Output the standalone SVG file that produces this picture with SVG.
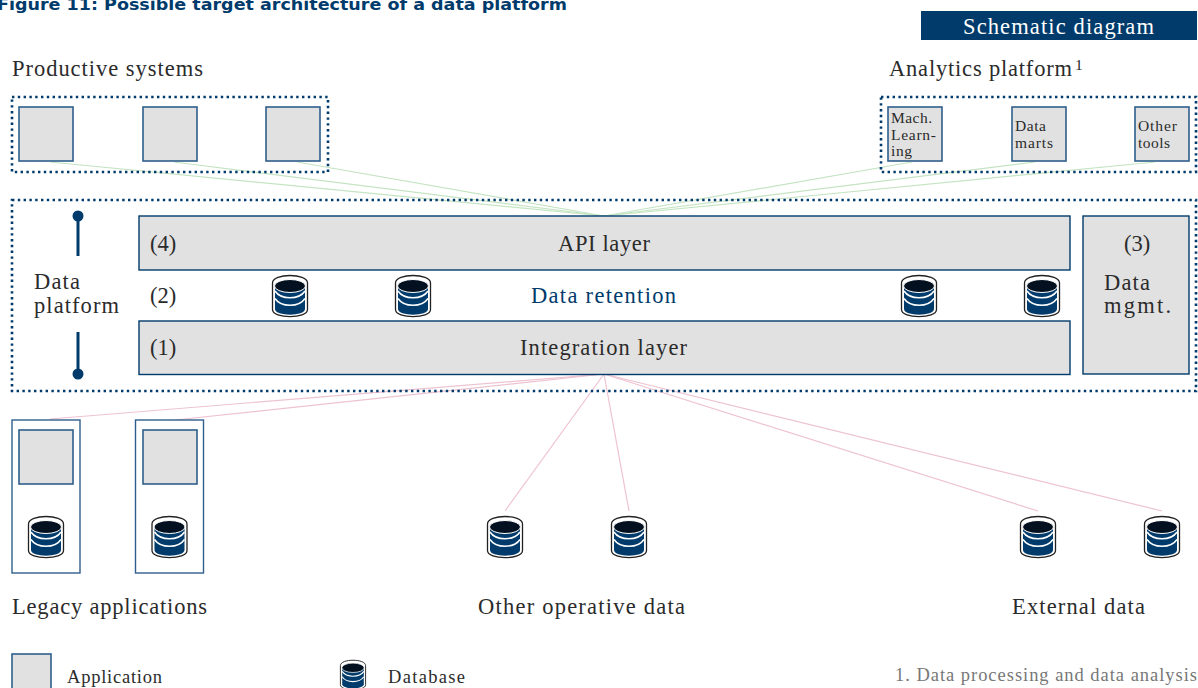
<svg xmlns="http://www.w3.org/2000/svg" xmlns:xlink="http://www.w3.org/1999/xlink" width="1198" height="688" viewBox="0 0 1198 688">
<style>
text{font-family:"Liberation Serif","Times New Roman",serif;fill:#2b2b2b}
.l{font-size:22.500px}
.s{font-size:15.500px}
.m{font-size:18.500px}
.app{fill:#e1e1e1;stroke:#2f5f8d;stroke-width:1.6}
.bar{fill:#e1e1e1;stroke:#003b6c;stroke-width:1.4}
.dot{fill:none;stroke:#003b6c;stroke-width:2.6;stroke-dasharray:2.4 3.4}
.tier{fill:#fff;stroke:#2f5f8d;stroke-width:1.4}
.g line{stroke:#c5e4c3;stroke-width:1.2}
.r line{stroke:#eec3d0;stroke-width:1.2}
.stem{stroke:#003b6c;stroke-width:3}
</style>
<defs>
<g id="db">
<path d="M-17.500-13C-17.500-23 17.500-23 17.500-13V13.500C17.500 23 -17.500 23 -17.500 13.500Z" fill="#fff" stroke="#222" stroke-width="1.300"/>
<path d="M-15-10V13C-15 20.500 15 20.500 15 13V-10Z" fill="#003b6c"/>
<path d="M-15-5C-9 4 9 4 15-5M-15 2.500C-9 11.500 9 11.500 15 2.500" fill="none" stroke="#fff" stroke-width="1.500"/>
<ellipse cx="0" cy="-10" rx="15.500" ry="6.500" fill="#03101f" stroke="#fff" stroke-width="1"/>
</g>
</defs>
<text x="-3" y="10" style="font-family:'DejaVu Sans',sans-serif;font-weight:700;font-size:15.500px;fill:#003b6c" textLength="570" lengthAdjust="spacingAndGlyphs">Figure 11: Possible target architecture of a data platform</text>
<g id="badge"><rect x="921" y="11" width="276" height="29" fill="#003b6c"/><text x="963" y="34" class="l" style="fill:#fff" textLength="191">Schematic diagram</text></g>
<g id="connectors">
<g class="g">
<line x1="50" y1="162" x2="604" y2="216"/><line x1="174" y1="162" x2="604" y2="216"/><line x1="297" y1="162" x2="604" y2="216"/>
<line x1="912" y1="162" x2="604" y2="216"/><line x1="1035" y1="162" x2="604" y2="216"/><line x1="1155" y1="162" x2="604" y2="216"/>
</g>
<g class="r">
<line x1="50" y1="419" x2="604" y2="374"/><line x1="175" y1="420" x2="604" y2="374"/><line x1="505" y1="511" x2="604" y2="374"/><line x1="629" y1="511" x2="604" y2="374"/><line x1="1038" y1="511" x2="604" y2="374"/><line x1="1162" y1="511" x2="604" y2="374"/>
</g>
</g>
<text x="12" y="76" class="l" textLength="191">Productive systems</text>
<text x="889" y="76" class="l" textLength="183">Analytics platform</text>
<text x="1075" y="70" class="s">1</text>
<rect id="frame-productive" class="dot" x="12" y="97" width="316" height="75"/>
<rect id="frame-analytics" class="dot" x="881" y="97" width="315" height="75"/>
<rect id="frame-platform" class="dot" x="12" y="200" width="1184" height="191"/>
<g id="app1"><rect class="app" x="19" y="107" width="54" height="54"/></g>
<g id="app2"><rect class="app" x="143" y="107" width="54" height="54"/></g>
<g id="app3"><rect class="app" x="266" y="107" width="54" height="54"/></g>
<g id="ml"><rect class="app" x="888" y="107" width="54" height="54"/><text x="891" y="123" class="s" textLength="41">Mach.</text><text x="891" y="140" class="s" textLength="45">Learn-</text><text x="891" y="156" class="s" textLength="21">ing</text></g>
<g id="marts"><rect class="app" x="1012" y="107" width="54" height="54"/><text x="1015" y="131" class="s" textLength="31">Data</text><text x="1015" y="148" class="s" textLength="38">marts</text></g>
<g id="tools"><rect class="app" x="1135" y="107" width="54" height="54"/><text x="1138" y="131" class="s" textLength="39">Other</text><text x="1138" y="148" class="s" textLength="32">tools</text></g>
<g id="scale">
<circle cx="78" cy="216" r="5.500" fill="#003b6c"/><line class="stem" x1="78" y1="216" x2="78" y2="256"/>
<circle cx="78" cy="374" r="5.500" fill="#003b6c"/><line class="stem" x1="78" y1="332" x2="78" y2="374"/>
<text x="34" y="289" class="l" textLength="46">Data</text><text x="34" y="313" class="l" textLength="85">platform</text>
</g>
<g id="api"><rect class="bar" x="139" y="216" width="931" height="54"/><text x="150" y="251" class="l">(4)</text><text x="558" y="251" class="l" textLength="92">API layer</text></g>
<g id="retention"><text x="150" y="303" class="l">(2)</text><text x="531" y="303" class="l" style="fill:#003b6c" textLength="145">Data retention</text>
<use xlink:href="#db" href="#db" x="290" y="296"/><use xlink:href="#db" href="#db" x="413" y="296"/><use xlink:href="#db" href="#db" x="919" y="296"/><use xlink:href="#db" href="#db" x="1042" y="296"/></g>
<g id="integration"><rect class="bar" x="139" y="321" width="931" height="53.500"/><text x="150" y="355" class="l">(1)</text><text x="520" y="355" class="l" textLength="167">Integration layer</text></g>
<g id="mgmt"><rect class="bar" x="1083" y="216" width="106" height="158"/><text x="1124" y="251" class="l">(3)</text><text x="1104" y="290" class="l" textLength="46">Data</text><text x="1104" y="313" class="l" textLength="67">mgmt.</text></g>
<g id="legacy1"><rect class="tier" x="12" y="420" width="68" height="153"/><rect class="app" x="19" y="430" width="54" height="54"/><use xlink:href="#db" href="#db" x="46" y="537"/></g>
<g id="legacy2"><rect class="tier" x="135.500" y="420" width="68" height="153"/><rect class="app" x="143" y="430" width="54" height="54"/><use xlink:href="#db" href="#db" x="169.500" y="537"/></g>
<g id="opdata"><use xlink:href="#db" href="#db" x="505" y="537"/><use xlink:href="#db" href="#db" x="629" y="537"/></g>
<g id="extdata"><use xlink:href="#db" href="#db" x="1038" y="537"/><use xlink:href="#db" href="#db" x="1162" y="537"/></g>
<text x="12" y="614" class="l" textLength="195">Legacy applications</text>
<text x="478" y="614" class="l" textLength="207">Other operative data</text>
<text x="1012" y="614" class="l" textLength="133">External data</text>
<g id="legend">
<rect class="app" x="12" y="654" width="39" height="40"/><text x="67" y="683" class="m" textLength="95">Application</text>
<use xlink:href="#db" href="#db" transform="translate(353 675) scale(.72)"/><text x="388" y="683" class="m" textLength="77">Database</text>
<text x="895" y="681" class="m" style="fill:#777" textLength="302">1. Data processing and data analysis</text>
</g>
</svg>
